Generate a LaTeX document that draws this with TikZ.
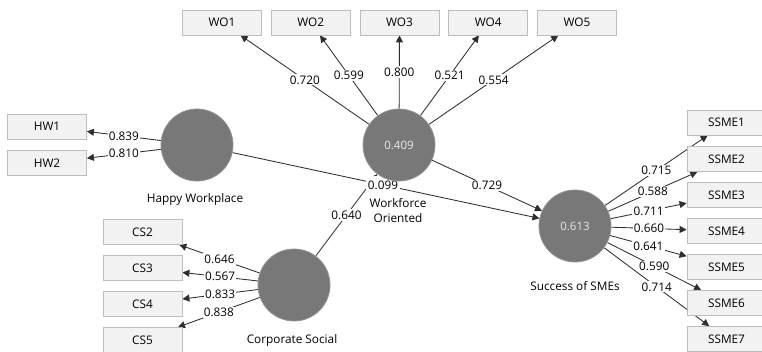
\documentclass[tikz,border=0pt]{standalone}
\usepackage{fontspec}
\setmainfont{Open Sans}
\usetikzlibrary{arrows.meta}
\definecolor{lvfill}{HTML}{787878}
\definecolor{boxfill}{HTML}{F2F2F2}
\definecolor{boxline}{HTML}{BDBDBD}
\definecolor{edgecol}{HTML}{2E2E2E}
\definecolor{lvtext}{HTML}{E8E8E8}
\pgfdeclarelayer{edges}
\pgfsetlayers{edges,main}
\begin{document}
\begin{tikzpicture}[x=1pt,y=-1pt,
 ind/.style={draw=boxline, fill=boxfill, minimum width=79pt, minimum height=25pt, inner sep=0pt, font=\fontsize{11.8}{13}\selectfont, line width=0.8pt},
 lv/.style={circle, fill=lvfill, draw=lvfill!80, line width=0.8pt, minimum size=72pt, inner sep=0pt, text=lvtext, font=\fontsize{11.5}{13}\selectfont},
 lvcap/.style={font=\fontsize{11.8}{15}\selectfont, align=center, inner sep=0pt},
 wt/.style={fill=white, inner sep=1.2pt, font=\fontsize{11.8}{13}\selectfont},
 arr/.style={draw=edgecol, line width=0.85pt, -{Triangle[length=7pt,width=7pt]}}]
\useasboundingbox (0,0) rectangle (762,351);
% latent variables
\node[lv] (HW) at (197,145) {};
\node[lv] (WO) at (399,145) {0.409};
\node[lv] (CS) at (294,285) {};
\node[lv] (SME) at (575,226) {0.613};
% indicators
\node[ind] (wo1) at (222,22.5) {WO1};
\node[ind] (wo2) at (310.75,22.5) {WO2};
\node[ind] (wo3) at (399.5,22.5) {WO3};
\node[ind] (wo4) at (488.25,22.5) {WO4};
\node[ind] (wo5) at (577,22.5) {WO5};
\node[ind] (hw1) at (47,126.5) {HW1};
\node[ind] (hw2) at (47,163) {HW2};
\node[ind] (cs2) at (142.5,232) {CS2};
\node[ind] (cs3) at (142.5,268) {CS3};
\node[ind] (cs4) at (142.5,304) {CS4};
\node[ind] (cs5) at (142.5,340) {CS5};
\node[ind] (s1) at (726.5,122.5) {SSME1};
\node[ind] (s2) at (726.5,159) {SSME2};
\node[ind] (s3) at (726.5,195) {SSME3};
\node[ind] (s4) at (726.5,231) {SSME4};
\node[ind] (s5) at (726.5,267) {SSME5};
\node[ind] (s6) at (726.5,303) {SSME6};
\node[ind] (s7) at (726.5,339) {SSME7};
\begin{pgfonlayer}{edges}
% outer loadings
\draw[arr] (WO) -- node[wt]{0.720} (wo1);
\draw[arr] (WO) -- node[wt]{0.599} (wo2);
\draw[arr] (WO) -- node[wt]{0.800} (wo3);
\draw[arr] (WO) -- node[wt]{0.521} (wo4);
\draw[arr] (WO) -- node[wt]{0.554} (wo5);
\draw[arr] (HW) -- node[wt]{0.839} (hw1);
\draw[arr] (HW) -- node[wt]{0.810} (hw2);
\draw[arr] (CS) -- node[wt]{0.646} (cs2);
\draw[arr] (CS) -- node[wt]{0.567} (cs3);
\draw[arr] (CS) -- node[wt]{0.833} (cs4);
\draw[arr] (CS) -- node[wt]{0.838} (cs5);
\draw[arr] (SME) -- node[wt]{0.715} (s1);
\draw[arr] (SME) -- node[wt]{0.588} (s2);
\draw[arr] (SME) -- node[wt]{0.711} (s3);
\draw[arr] (SME) -- node[wt]{0.660} (s4);
\draw[arr] (SME) -- node[wt]{0.641} (s5);
\draw[arr] (SME) -- node[wt]{0.590} (s6);
\draw[arr] (SME) -- node[wt]{0.714} (s7);
% path coefficients
\draw[arr] (CS) -- node[wt]{0.640} (WO);
\draw[arr] (WO) -- node[wt]{0.729} (SME);
\draw[arr] (HW) -- node[wt, inner xsep=2pt, inner ysep=4.5pt, pos=0.49]{0.099} (SME);
\end{pgfonlayer}
% captions
\node[lvcap] (hwcap) at (195,199) {Happy Workplace};
\node[lvcap] (wocap) at (398,210.5) {Workforce\\Oriented};
\node[lvcap] (smecap) at (575,286) {Success of SMEs};
\node[lvcap] (cscap) at (292,340) {Corporate Social};
\end{tikzpicture}
\end{document}
